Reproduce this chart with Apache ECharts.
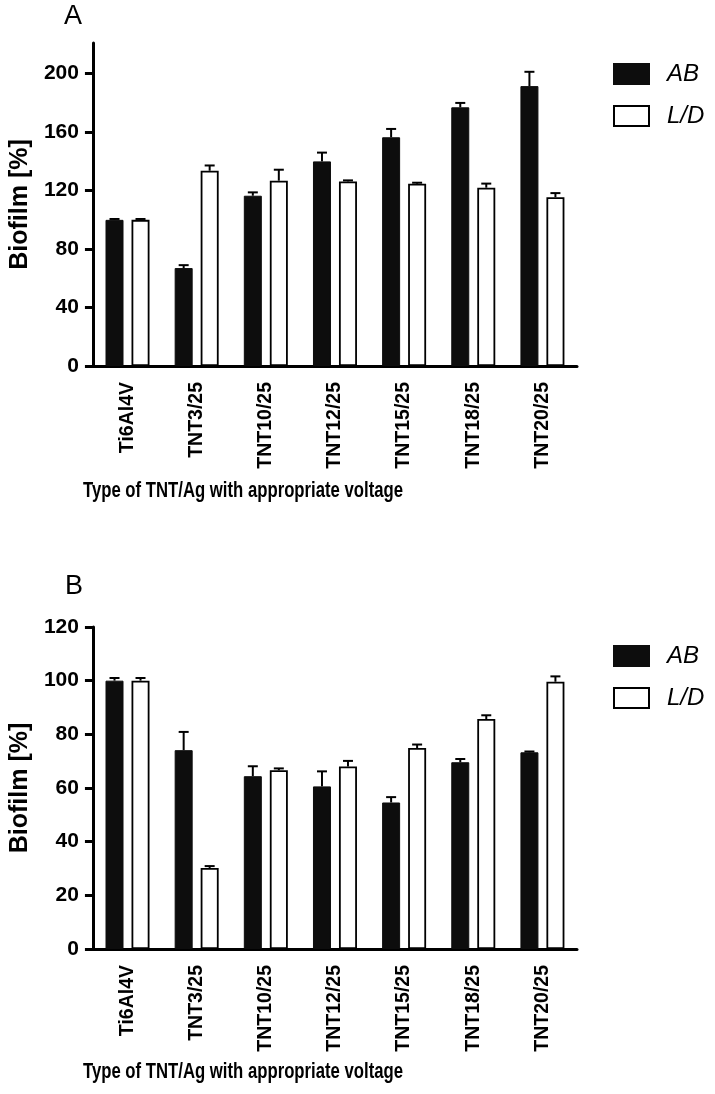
<!DOCTYPE html>
<html>
<head>
<meta charset="utf-8">
<script src="https://cdn.jsdelivr.net/npm/echarts@6/dist/echarts.min.js"></script>
<style>
html,body{margin:0;padding:0;background:#fff;}
#chart{width:715px;height:1094px;}
</style>
</head>
<body>
<div id="chart"></div>
<script>
// ---- data ----
const categories = ['Ti6Al4V', 'TNT3/25', 'TNT10/25', 'TNT12/25', 'TNT15/25', 'TNT18/25', 'TNT20/25'];
const seriesNames = ['AB', 'L/D'];

// Panel A
const A_AB = [100, 67, 116.5, 140, 156.5, 177, 191.5];
const A_AB_err = [0.6, 2, 2.3, 6, 5.7, 3, 9.8];
const A_LD = [100, 133.6, 126.8, 126.3, 124.7, 122, 115.5];
const A_LD_err = [0.6, 3.6, 7.5, 0.7, 0.7, 2.8, 2.8];
const A_yTicks = [0, 40, 80, 120, 160, 200];

// Panel B
const B_AB = [100, 74.1, 64.4, 60.6, 54.6, 69.6, 73.3];
const B_AB_err = [1, 6.8, 3.7, 5.6, 2, 1.2, 0.3];
const B_LD = [100, 30.2, 66.6, 68, 74.9, 85.7, 99.6];
const B_LD_err = [1, 0.7, 0.7, 2.1, 1.3, 1.4, 2];
const B_yTicks = [0, 20, 40, 60, 80, 100, 120];

const yName = 'Biofilm [%]';
const xName = 'Type of TNT/Ag with appropriate voltage';

// ---- chart ----
const FONT = "'Liberation Sans', Arial, sans-serif";
const BAR_W = 18, BAR_GAP = 8;
const OFFSET = (BAR_W + BAR_GAP) / 2;

function xAxisCfg(gi) {
  return {
    type: 'category', gridIndex: gi, data: categories,
    axisLine: { lineStyle: { color: '#000', width: 3 } },
    axisTick: { alignWithLabel: true, length: 7, lineStyle: { color: '#000', width: 3 } },
    axisLabel: { rotate: 90, fontSize: 19.5, fontWeight: 'bold', color: '#000', margin: 16, fontFamily: FONT, interval: 0 },
    splitLine: { show: false }
  };
}
function yAxisCfg(gi, max, ticks) {
  return {
    type: 'value', gridIndex: gi, min: 0, max: max,
    axisLine: { show: true, lineStyle: { color: '#000', width: 3 } },
    axisTick: { show: true, length: 8, lineStyle: { color: '#000', width: 3 }, customValues: ticks },
    axisLabel: { fontSize: 21, fontWeight: 'bold', color: '#000', margin: 14, fontFamily: FONT, customValues: ticks },
    splitLine: { show: false },
    name: yName, nameLocation: 'middle', nameGap: 57,
    nameTextStyle: { fontSize: 25, fontWeight: 'bold', color: '#000', fontFamily: FONT }
  };
}
function barSeries(name, gi, vals) {
  const black = name === 'AB';
  return {
    type: 'bar', name: name, xAxisIndex: gi, yAxisIndex: gi, data: vals,
    barWidth: BAR_W, barGap: (BAR_GAP / BAR_W * 100) + '%',
    itemStyle: black ? { color: '#0d0d0d', borderColor: '#0d0d0d', borderWidth: 1 }
                     : { color: '#ffffff', borderColor: '#000', borderWidth: 1.8 },
    silent: true
  };
}
function errSeries(name, gi, vals, errs, sign) {
  return {
    type: 'custom', name: name + ' err', xAxisIndex: gi, yAxisIndex: gi,
    data: categories.map((c, i) => [i, vals[i], errs[i]]),
    encode: { x: 0, y: 1 }, z: 5, silent: true,
    renderItem: function (params, api) {
      const i = api.value(0), v = api.value(1), e = api.value(2);
      const b = api.coord([i, v]);
      const t = api.coord([i, v + e]);
      const x = b[0] + sign * OFFSET;
      return {
        type: 'group', children: [
          { type: 'line', shape: { x1: x, y1: b[1], x2: x, y2: t[1] }, style: { stroke: '#000', lineWidth: 2 } },
          { type: 'line', shape: { x1: x - 5, y1: t[1], x2: x + 5, y2: t[1] }, style: { stroke: '#000', lineWidth: 2 } }
        ]
      };
    }
  };
}
function legendCfg(top) {
  return {
    orient: 'vertical', left: 608, top: top, data: seriesNames,
    icon: 'rect', itemWidth: 35, itemHeight: 20, itemGap: 18, selectedMode: false,
    textStyle: { fontSize: 24, fontStyle: 'italic', color: '#000', fontFamily: FONT, lineHeight: 20, padding: [0, 0, 0, 13] }
  };
}
function xTitle(y) {
  return { type: 'text', x: 243, y: y, scaleX: 0.76,
    style: { text: xName, font: "bold 22px " + FONT, fill: '#000', textAlign: 'center', textVerticalAlign: 'middle' } };
}

const chart = echarts.init(document.getElementById('chart'), null, { renderer: 'canvas' });
chart.setOption({
  animation: false,
  backgroundColor: '#fff',
  textStyle: { fontFamily: FONT },
  grid: [
    { left: 92, top: 43, width: 485, height: 323 },
    { left: 92, top: 627, width: 485, height: 322 }
  ],
  xAxis: [xAxisCfg(0), xAxisCfg(1)],
  yAxis: [yAxisCfg(0, 221, A_yTicks), yAxisCfg(1, 120, B_yTicks)],
  legend: [legendCfg(57), legendCfg(639)],
  series: [
    barSeries('AB', 0, A_AB), barSeries('L/D', 0, A_LD),
    errSeries('AB', 0, A_AB, A_AB_err, -1), errSeries('L/D', 0, A_LD, A_LD_err, 1),
    barSeries('AB', 1, B_AB), barSeries('L/D', 1, B_LD),
    errSeries('AB', 1, B_AB, B_AB_err, -1), errSeries('L/D', 1, B_LD, B_LD_err, 1)
  ],
  graphic: [
    { type: 'text', x: 73, y: 17, style: { text: 'A', font: "27px " + FONT, fill: '#000', textAlign: 'center', textVerticalAlign: 'middle' } },
    { type: 'text', x: 74, y: 587, style: { text: 'B', font: "27px " + FONT, fill: '#000', textAlign: 'center', textVerticalAlign: 'middle' } },
    xTitle(491),
    xTitle(1072)
  ]
});
</script>
</body>
</html>
